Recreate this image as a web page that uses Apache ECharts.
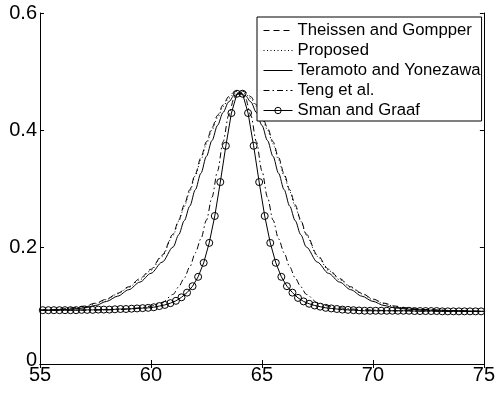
<!DOCTYPE html>
<html>
<head>
<meta charset="utf-8">
<script src="https://cdn.jsdelivr.net/npm/echarts@6/dist/echarts.min.js"></script>
<style>
html,body{margin:0;padding:0;background:#fff;}
#chart{width:498px;height:394px;}
</style>
</head>
<body>
<div id="chart"></div>
<script>
// ---- data ----
const seriesNames = ['Theissen and Gompper', 'Proposed', 'Teramoto and Yonezawa', 'Teng et al.', 'Sman and Graaf'];
const xTicks = [55, 60, 65, 70, 75];
const yTicks = [0, 0.2, 0.4, 0.6];

const xCurve = [55,55.5,56,56.5,57,57.5,58,58.5,59,59.5,60,60.5,
  61,61.25,61.5,61.75,62,62.25,62.5,62.75,63,63.25,63.5,63.75,64,64.25,64.5,64.75,65,65.25,65.5,65.75,66,66.25,66.5,66.75,67,
  67.5,68,68.5,69,69.5,70,70.5,71,71.5,72,72.5,73,73.5,74,74.5,75];

const theissen = [.092,.093,.094,.096,.099,.104,.111,.121,.132,.146,.162,.186,
  .222,.246,.272,.298,.325,.353,.38,.404,.425,.443,.457,.465,.468,.465,.457,.443,.425,.404,.38,.353,.325,.298,.272,.246,.222,
  .186,.162,.146,.132,.121,.111,.104,.099,.096,.094,.093,.092,.0915,.091,.0905,.09];

const proposed = [.092,.092,.093,.095,.098,.103,.110,.120,.131,.144,.160,.184,
  .220,.244,.269,.295,.322,.349,.376,.400,.421,.440,.454,.462,.465,.462,.454,.440,.421,.400,.376,.349,.322,.295,.269,.244,.220,
  .184,.160,.144,.131,.120,.110,.103,.098,.095,.093,.092,.092,.091,.091,.090,.090];

const teramoto = [.092,.092,.093,.094,.096,.100,.107,.116,.127,.140,.155,.174,
  .200,.221,.245,.270,.298,.326,.355,.382,.408,.430,.448,.459,.462,.459,.448,.430,.408,.382,.355,.326,.298,.270,.245,.221,.200,
  .174,.155,.140,.127,.116,.107,.100,.096,.094,.093,.092,.092,.091,.091,.090,.090];

const teng = [.092,.092,.092,.092,.092,.092,.0925,.093,.094,.096,.099,.105,
  .119,.132,.147,.166,.190,.214,.246,.285,.330,.380,.425,.455,.465,.455,.425,.380,.330,.285,.246,.214,.190,.166,.147,.132,.119,
  .105,.099,.096,.094,.093,.092,.0915,.091,.091,.0905,.0905,.090,.090,.090,.090,.090];

const xSman = [55.125,55.375,55.625,55.875,56.125,56.375,56.625,56.875,57.125,57.375,
  57.625,57.875,58.125,58.375,58.625,58.875,59.125,59.375,59.625,59.875,
  60.125,60.375,60.625,60.875,61.125,61.375,61.625,61.875,62.125,62.375,
  62.625,62.875,63.125,63.375,63.625,63.875,64.125,64.375,64.625,64.875,
  65.125,65.375,65.625,65.875,66.125,66.375,66.625,66.875,67.125,67.375,
  67.625,67.875,68.125,68.375,68.625,68.875,69.125,69.375,69.625,69.875,
  70.125,70.375,70.625,70.875,71.125,71.375,71.625,71.875,72.125,72.375,
  72.625,72.875,73.125,73.375,73.625,73.875,74.125,74.375,74.625,74.875];

const sman = [.092,.092,.092,.092,.092,.092,.092,.0925,.0925,.0925,
  .093,.093,.093,.0935,.094,.094,.0945,.095,.0955,.096,
  .097,.099,.101,.104,.108,.114,.122,.133,.149,.173,
  .207,.253,.311,.373,.429,.462,.462,.429,.373,.311,
  .253,.207,.173,.149,.133,.122,.113,.107,.103,.100,
  .098,.096,.095,.094,.093,.0925,.092,.0915,.091,.091,
  .091,.091,.091,.091,.091,.091,.091,.0905,.0905,.0905,
  .0905,.0905,.090,.090,.090,.090,.090,.090,.090,.090];

// ---- chart ----
const FONT = "'Liberation Sans', Arial, Helvetica, sans-serif";
const pair = (xs, ys) => xs.map((x, i) => [x, ys[i]]);

const chart = echarts.init(document.getElementById('chart'), null, {renderer: 'canvas'});

function lineSeries(name, xs, ys, type) {
  return {
    name: name,
    type: 'line',
    data: pair(xs, ys),
    symbol: 'none',
    smooth: 0.3,
    smoothMonotone: 'x',
    lineStyle: {color: '#000', width: 1, type: type},
    itemStyle: {color: '#000'},
    emphasis: {disabled: true},
    z: 2
  };
}

const tickCommon = {inside: true, length: 4, lineStyle: {color: '#000', width: 1}};
const hiddenSymbol = {color: 'rgba(0,0,0,0)', borderColor: 'rgba(0,0,0,0)', borderWidth: 0, opacity: 0};

chart.setOption({
  animation: false,
  backgroundColor: '#fff',
  textStyle: {fontFamily: FONT},
  grid: {left: 40, right: 11, top: 13, bottom: 30, containLabel: false},
  xAxis: [{
    type: 'value', min: xTicks[0], max: xTicks[xTicks.length - 1], interval: 5,
    position: 'bottom',
    axisLine: {show: true, lineStyle: {color: '#000', width: 1}},
    axisTick: tickCommon,
    splitLine: {show: false},
    axisLabel: {color: '#000', fontSize: 20, fontFamily: FONT, margin: 1,
      formatter: v => xTicks.indexOf(v) >= 0 ? String(v) : ''}
  }, {
    type: 'value', min: xTicks[0], max: xTicks[xTicks.length - 1], interval: 5,
    position: 'top',
    axisLine: {show: true, lineStyle: {color: '#000', width: 1}},
    axisTick: tickCommon,
    splitLine: {show: false},
    axisLabel: {show: false}
  }],
  yAxis: [{
    type: 'value', min: yTicks[0], max: yTicks[yTicks.length - 1], interval: 0.2,
    position: 'left',
    axisLine: {show: true, lineStyle: {color: '#000', width: 1}},
    axisTick: tickCommon,
    splitLine: {show: false},
    axisLabel: {color: '#000', fontSize: 20, fontFamily: FONT, margin: 3,
      formatter: v => {
        const s = String(Math.round(v * 10) / 10);
        return Math.abs(v) < 1e-9 ? '{z|' + s + '}' : s;
      },
      rich: {z: {fontSize: 20, fontFamily: FONT, color: '#000', padding: [0, 0, 8, 0]}}
    }
  }, {
    type: 'value', min: yTicks[0], max: yTicks[yTicks.length - 1], interval: 0.2,
    position: 'right',
    axisLine: {show: true, lineStyle: {color: '#000', width: 1}},
    axisTick: tickCommon,
    splitLine: {show: false},
    axisLabel: {show: false}
  }],
  legend: {
    orient: 'vertical', left: 257, top: 17,
    padding: [5, 1, 2, 6],
    itemWidth: 29, itemHeight: 8, itemGap: 3,
    backgroundColor: '#fff', borderColor: '#000', borderWidth: 1, borderRadius: 0,
    lineStyle: {width: 1},
    textStyle: {fontSize: 16.7, color: '#000', fontFamily: FONT},
    data: [
      {name: seriesNames[0], itemStyle: hiddenSymbol},
      {name: seriesNames[1], itemStyle: hiddenSymbol},
      {name: seriesNames[2], itemStyle: hiddenSymbol},
      {name: seriesNames[3], itemStyle: hiddenSymbol},
      {name: seriesNames[4], itemStyle: {color: 'rgba(0,0,0,0)', borderColor: '#000', borderWidth: 1}}
    ],
    selectedMode: false
  },
  series: [
    lineSeries(seriesNames[0], xCurve, theissen, [6, 4]),
    lineSeries(seriesNames[1], xCurve, proposed, [1, 2.5]),
    lineSeries(seriesNames[2], xCurve, teramoto, 'solid'),
    lineSeries(seriesNames[3], xCurve, teng, [6, 3, 1.5, 3]),
    {
      name: seriesNames[4], type: 'line', data: pair(xSman, sman),
      symbol: 'circle', symbolSize: 7, showSymbol: true,
      lineStyle: {color: '#000', width: 1},
      itemStyle: {color: 'rgba(0,0,0,0)', borderColor: '#000', borderWidth: 1},
      emphasis: {disabled: true}, z: 3
    }
  ]
});
</script>
</body>
</html>
